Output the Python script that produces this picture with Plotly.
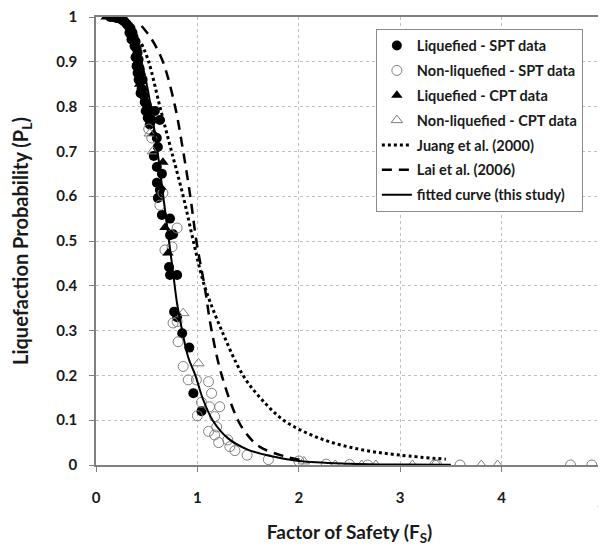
import plotly.graph_objects as go

# ---------------- data ----------------
liq_spt_fs = [0.14, 0.17, 0.20, 0.23, 0.26, 0.28, 0.30, 0.32, 0.34, 0.33, 0.36, 0.37, 0.35, 0.39,
              0.38, 0.40, 0.41, 0.39, 0.42, 0.40, 0.43, 0.41, 0.44, 0.42, 0.46, 0.45, 0.44, 0.47,
              0.48, 0.50, 0.49, 0.52, 0.51, 0.55, 0.53, 0.58, 0.63, 0.60, 0.61, 0.57, 0.60, 0.65,
              0.60, 0.63, 0.61, 0.65, 0.73, 0.73, 0.76, 0.72, 0.73, 0.80, 0.77, 0.80, 0.85, 0.92,
              0.96, 1.04]
liq_spt_pl = [1.000, 1.000, 0.998, 0.997, 0.993, 0.990, 0.985, 0.980, 0.975, 0.965, 0.965, 0.955, 0.950, 0.945,
              0.935, 0.930, 0.920, 0.910, 0.905, 0.890, 0.885, 0.875, 0.870, 0.860, 0.860, 0.840, 0.830, 0.825,
              0.810, 0.805, 0.790, 0.785, 0.775, 0.770, 0.760, 0.790, 0.770, 0.730, 0.710, 0.690, 0.665, 0.650,
              0.630, 0.614, 0.596, 0.558, 0.550, 0.513, 0.515, 0.442, 0.424, 0.424, 0.342, 0.330, 0.294, 0.262,
              0.160, 0.120]

nonliq_spt_fs = [0.52, 0.55, 0.66, 0.63, 0.80, 0.68, 0.75, 0.76, 0.80, 0.81, 0.86, 0.91, 0.99, 1.11,
                 1.14, 1.04, 1.12, 1.22, 1.00, 1.17, 1.19, 1.11, 1.17, 1.21, 1.30, 1.32, 1.37, 1.49,
                 1.70, 2.00, 2.27, 2.50, 2.68, 3.34, 3.36, 3.59, 4.68, 4.89]
nonliq_spt_pl = [0.750, 0.730, 0.607, 0.580, 0.529, 0.480, 0.487, 0.317, 0.320, 0.275, 0.220, 0.190, 0.190, 0.186,
                 0.160, 0.140, 0.130, 0.130, 0.110, 0.108, 0.085, 0.075, 0.067, 0.050, 0.056, 0.041, 0.032, 0.022,
                 0.012, 0.009, 0.002, 0.001, 0.000, 0.000, 0.000, 0.000, 0.000, 0.000]

liq_cpt_fs = [0.10, 0.15, 0.25, 0.30, 0.36, 0.41, 0.43, 0.47, 0.52, 0.57, 0.66, 0.64, 0.68, 0.71]
liq_cpt_pl = [1.000, 1.000, 0.995, 0.990, 0.960, 0.900, 0.850, 0.840, 0.800, 0.740, 0.676, 0.620, 0.530, 0.473]

nonliq_cpt_fs = [0.53, 0.56, 0.86, 1.01, 2.05, 2.36, 2.62, 2.76, 3.12, 3.80, 3.96]
nonliq_cpt_pl = [0.740, 0.700, 0.339, 0.227, 0.008, 0.000, 0.000, 0.000, 0.000, 0.000, 0.000]

juang_fs = [0.45, 0.52, 0.63, 0.745, 0.86, 0.96, 1.07, 1.24, 1.45, 1.62, 1.85, 2.20, 2.60, 3.00, 3.45]
juang_pl = [0.94, 0.90, 0.80, 0.70, 0.60, 0.50, 0.40, 0.30, 0.20, 0.15, 0.10, 0.06, 0.035, 0.022, 0.013]

lai_fs = [0.45, 0.55, 0.66, 0.78, 0.86, 0.93, 0.99, 1.07, 1.14, 1.24, 1.40, 1.50, 1.62, 1.85, 2.05]
lai_pl = [0.98, 0.95, 0.90, 0.80, 0.70, 0.60, 0.50, 0.40, 0.30, 0.20, 0.10, 0.065, 0.04, 0.02, 0.01]

fit_fs = [0.10, 0.20, 0.30, 0.40, 0.50, 0.60, 0.68, 0.72, 0.76, 0.80, 0.85, 0.91, 0.98, 1.05, 1.15,
          1.30, 1.49, 1.72, 2.00, 2.50, 3.00, 3.50]
fit_pl = [1.000, 0.997, 0.982, 0.937, 0.850, 0.710, 0.570, 0.500, 0.430, 0.360, 0.300, 0.240, 0.200, 0.150, 0.100,
          0.060, 0.035, 0.020, 0.009, 0.003, 0.001, 0.0005]

x_ticks = [0, 1, 2, 3, 4, 5]
y_ticks = [0, 0.1, 0.2, 0.3, 0.4, 0.5, 0.6, 0.7, 0.8, 0.9, 1]

# ---------------- figure ----------------
FONT = "Lato"
TXT = "#1a1a1a"
fig = go.Figure()

fig.add_trace(go.Scatter(x=liq_spt_fs, y=liq_spt_pl, mode="markers", name="<b>Liquefied - SPT data</b>",
                         legendgroup="a",
                         marker=dict(symbol="circle", size=10, color="black", line=dict(width=0))))
fig.add_trace(go.Scatter(x=nonliq_spt_fs, y=nonliq_spt_pl, mode="markers", name="<b>Non-liquefied - SPT data</b>",
                         legendgroup="b",
                         marker=dict(symbol="circle-open", size=10, color="#7f7f7f", line=dict(width=1))))
fig.add_trace(go.Scatter(x=liq_cpt_fs, y=liq_cpt_pl, mode="markers", name="<b>Liquefied - CPT data</b>",
                         legendgroup="c",
                         marker=dict(symbol="triangle-up", size=10, color="black", line=dict(width=0))))
fig.add_trace(go.Scatter(x=nonliq_cpt_fs, y=nonliq_cpt_pl, mode="markers", name="<b>Non-liquefied - CPT data</b>",
                         legendgroup="d",
                         marker=dict(symbol="triangle-up-open", size=10, color="#7f7f7f", line=dict(width=1))))
fig.add_trace(go.Scatter(x=juang_fs, y=juang_pl, mode="lines", name="<b>Juang et al. (2000)</b>",
                         legendgroup="e", line=dict(color="black", width=3, dash="3px,3px", shape="spline")))
fig.add_trace(go.Scatter(x=lai_fs, y=lai_pl, mode="lines", name="<b>Lai et al. (2006)</b>",
                         legendgroup="f", line=dict(color="black", width=2.5, dash="10px,7px", shape="spline")))
fig.add_trace(go.Scatter(x=fit_fs, y=fit_pl, mode="lines", name="<b>fitted curve (this study)</b>",
                         legendgroup="g", line=dict(color="black", width=2, shape="spline")))

axis_common = dict(
    showgrid=True, gridcolor="#bfbfbf", gridwidth=1, griddash="dot",
    showline=True, linecolor="#808080", linewidth=1.5, mirror=True,
    ticks="outside", ticklen=5, tickcolor="#808080", tickwidth=1,
    zeroline=False, automargin=False, ticklabeloverflow="allow",
    tickfont=dict(family=FONT, size=15, color=TXT),
)

# last x label sits on the figure edge; it is drawn as an annotation so it is not dropped
x_ticktext = [f"<b>{v}</b>" for v in x_ticks[:-1]] + [""]
fig.update_xaxes(range=[0, 5], tickvals=x_ticks, ticktext=x_ticktext,
                 ticklabelstandoff=13,
                 title=dict(text="<b>Factor of Safety (F<sub>S</sub>)</b>", standoff=22,
                            font=dict(family=FONT, size=19, color=TXT)),
                 **axis_common)
fig.update_yaxes(range=[0, 1], tickvals=y_ticks, ticktext=[f"<b>{v:g}</b>" for v in y_ticks],
                 ticklabelstandoff=9,
                 title=dict(text="<b>Liquefaction Probability (P<sub>L</sub>)</b>", standoff=26,
                            font=dict(family=FONT, size=20, color=TXT)),
                 **axis_common)

fig.add_annotation(x=x_ticks[-1], xref="x", y=0, yref="paper", yanchor="middle",
                   yshift=-37, xshift=-2, showarrow=False, text=f"<b>{x_ticks[-1]}</b>",
                   font=dict(family=FONT, size=15, color=TXT))

# page has an 8px body margin, so the figure is 8px smaller and margins shifted
fig.update_layout(
    width=598, height=538,
    margin=dict(l=88, r=3, t=9, b=81),
    paper_bgcolor="white", plot_bgcolor="white",
    showlegend=True,
    legend=dict(x=0.552, y=0.974, xanchor="left", yanchor="top",
                bgcolor="white", bordercolor="#8c8c8c", borderwidth=1,
                font=dict(family=FONT, size=14.5, color=TXT),
                tracegroupgap=3, itemwidth=30),
)

fig.write_html("out.html")
